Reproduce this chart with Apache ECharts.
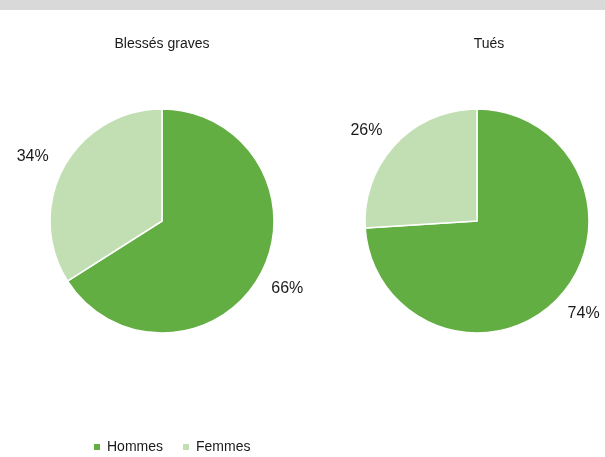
<!DOCTYPE html>
<html>
<head>
<meta charset="utf-8">
<script src="https://cdn.jsdelivr.net/npm/echarts@6/dist/echarts.min.js"></script>
<style>
  html, body { margin: 0; padding: 0; background: #ffffff; }
  #chart { width: 605px; height: 457px; }
</style>
</head>
<body>
<div id="chart"></div>
<script>
// Répartition par sexe des victimes
const categories = ['Hommes', 'Femmes'];
const chartTitles = ['Blessés graves', 'Tués'];
const blessesGraves = [66, 34];
const tues = [74, 26];

const colors = ['#62ae43', '#c1dfb3'];
const FONT = '"Liberation Sans", Arial, sans-serif';

function toData(values) {
  return categories.map((name, i) => ({ name: name, value: values[i] }));
}

function pieSeries(name, values, cx) {
  return {
    type: 'pie',
    name: name,
    center: [cx, 221],
    radius: 112,
    startAngle: 90,
    clockwise: true,
    animation: false,
    silent: true,
    data: toData(values),
    itemStyle: { borderColor: '#ffffff', borderWidth: 1.5 },
    label: {
      show: true,
      position: 'outside',
      formatter: p => p.value + '%',
      fontFamily: FONT,
      fontSize: 16,
      color: '#1a1a1a',
      overflow: 'none',
      distanceToLabelLine: 0
    },
    labelLine: { show: false, length: 15, length2: 0 },
    // labels sit a little further from the pie, like outside-end data labels
    labelLayout: p => (p.dataIndex === 0 ? { dy: 6, dx: -2 } : { dy: -3, dx: -2 }),
    emphasis: { disabled: true }
  };
}

const chart = echarts.init(document.getElementById('chart'), null, { renderer: 'canvas' });
chart.setOption({
  backgroundColor: '#ffffff',
  color: colors,
  graphic: [{
    type: 'rect',
    left: 0, top: 0,
    shape: { width: 605, height: 10 },
    style: { fill: '#d9d9d9' },
    silent: true
  }],
  title: [
    { text: chartTitles[0], left: 162, top: 37, textAlign: 'center', padding: 0,
      textStyle: { fontFamily: FONT, fontSize: 14, fontWeight: 'normal', color: '#1a1a1a' } },
    { text: chartTitles[1], left: 489, top: 37, textAlign: 'center', padding: 0,
      textStyle: { fontFamily: FONT, fontSize: 14, fontWeight: 'normal', color: '#1a1a1a' } }
  ],
  legend: {
    data: categories,
    left: 92,
    top: 440,
    padding: 0,
    itemWidth: 8,
    itemHeight: 8,
    itemGap: 18,
    icon: 'rect',
    selectedMode: false,
    textStyle: { fontFamily: FONT, fontSize: 14, color: '#1a1a1a', padding: [0, 0, 0, 1] }
  },
  series: [
    pieSeries(chartTitles[0], blessesGraves, 162),
    pieSeries(chartTitles[1], tues, 477)
  ]
});
</script>
</body>
</html>
